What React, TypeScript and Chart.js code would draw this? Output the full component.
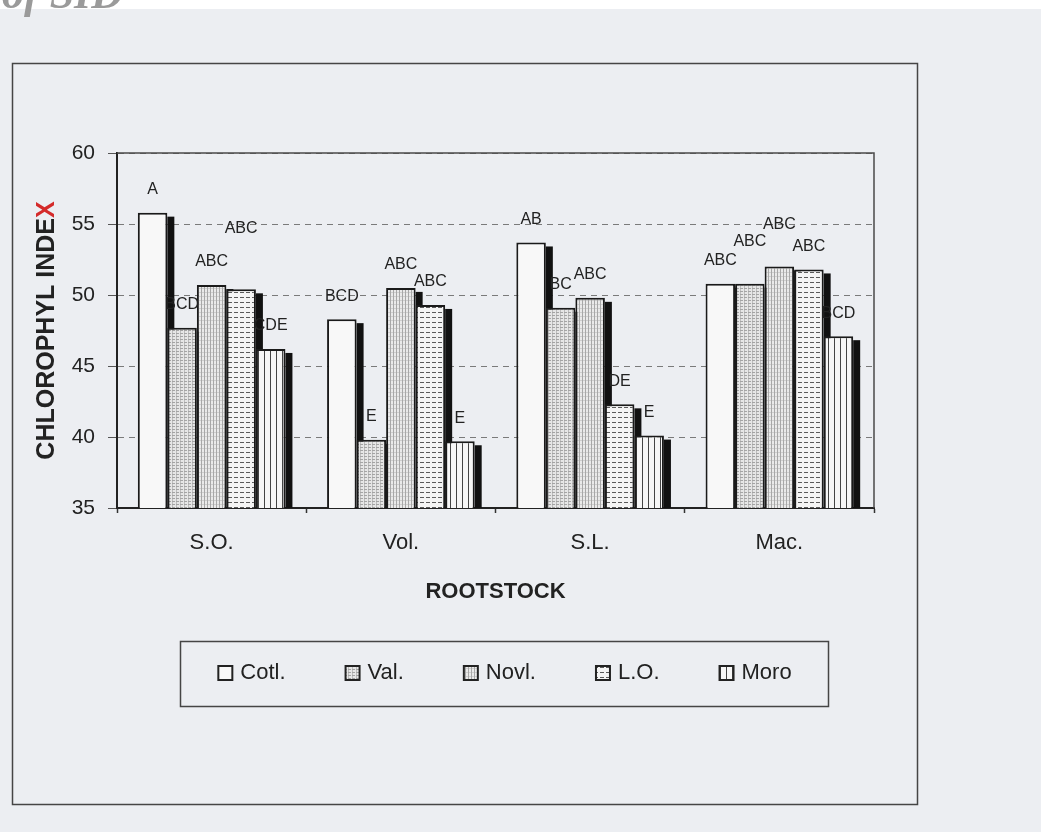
import React, { useEffect, useRef } from 'react';
import { Chart, registerables } from 'chart.js';

Chart.register(...registerables);

const categories = ['S.O.', 'Vol.', 'S.L.', 'Mac.'];
const seriesNames = ['Cotl.', 'Val.', 'Novl.', 'L.O.', 'Moro'];

const cotl = [55.8, 48.3, 53.7, 50.8];
const val = [47.7, 39.8, 49.1, 50.8];
const novl = [50.7, 50.5, 49.8, 52.0];
const lo = [50.4, 49.3, 42.3, 51.8];
const moro = [46.2, 39.7, 40.1, 47.1];

const cotlLetters = ['A', 'BCD', 'AB', 'ABC'];
const valLetters = ['BCD', 'E', 'BC', 'ABC'];
const novlLetters = ['ABC', 'ABC', 'ABC', 'ABC'];
const loLetters = ['ABC', 'ABC', 'DE', 'ABC'];
const moroLetters = ['CDE', 'E', 'E', 'BCD'];

const yMin = 35;
const yMax = 60;
const yStep = 5;

const yTitleMain = 'CHLOROPHYL INDE';
const yTitleLast = 'X';
const xTitle = 'ROOTSTOCK';
const watermark = 'Archive of SID';

const FONT = "'Liberation Sans', Arial, sans-serif";
const PAPER = '#eceef2';
const INK = '#222222';

function makePattern(w: number, h: number, draw: (g: CanvasRenderingContext2D) => void): CanvasPattern | string {
  const c = document.createElement('canvas');
  c.width = w;
  c.height = h;
  const g = c.getContext('2d');
  if (!g) return '#ffffff';
  draw(g);
  const p = g.createPattern(c, 'repeat');
  return p || '#ffffff';
}

function buildPatterns() {
  const white = '#f8f8f8';
  const valP = makePattern(4, 3, (g) => {
    g.fillStyle = '#e6e6e6';
    g.fillRect(0, 0, 4, 3);
    g.fillStyle = '#a4a4a4';
    g.fillRect(0, 0, 3, 1);
    g.fillStyle = '#bdbdbd';
    g.fillRect(0, 1, 1, 2);
  });
  const novlP = makePattern(3, 4, (g) => {
    g.fillStyle = '#eaeaea';
    g.fillRect(0, 0, 3, 4);
    g.fillStyle = '#a8a8a8';
    g.fillRect(0, 0, 1, 4);
    g.fillStyle = '#cfcfcf';
    g.fillRect(1, 0, 2, 1);
  });
  const loP = makePattern(6, 5, (g) => {
    g.fillStyle = '#f4f4f4';
    g.fillRect(0, 0, 6, 5);
    g.fillStyle = '#5a5a5a';
    g.fillRect(0, 2, 4, 1);
  });
  const moroP = makePattern(6, 2, (g) => {
    g.fillStyle = '#f6f6f6';
    g.fillRect(0, 0, 6, 2);
    g.fillStyle = '#444444';
    g.fillRect(0, 0, 1, 2);
  });
  return [white, valP, novlP, loP, moroP];
}

export default function App() {
  const ref = useRef<HTMLCanvasElement | null>(null);

  useEffect(() => {
    const canvas = ref.current;
    if (!canvas) return;
    const fills = buildPatterns();
    const seriesValues = [cotl, val, novl, lo, moro];
    const seriesLetters = [cotlLetters, valLetters, novlLetters, loLetters, moroLetters];

    const paperPlugin = {
      id: 'paper',
      beforeDraw(chart: any) {
        const ctx = chart.ctx as CanvasRenderingContext2D;
        ctx.save();
        ctx.fillStyle = PAPER;
        ctx.fillRect(0, 0, chart.width, chart.height);
        ctx.fillStyle = '#ffffff';
        ctx.fillRect(0, 0, chart.width, 9);
        ctx.font = `italic bold 44px 'Liberation Serif', 'DejaVu Serif', serif`;
        ctx.fillStyle = '#9a9a9a';
        ctx.textAlign = 'right';
        ctx.textBaseline = 'alphabetic';
        ctx.fillText(watermark, 123, 8);
        ctx.strokeStyle = '#454545';
        ctx.lineWidth = 1.5;
        ctx.strokeRect(12.5, 63.5, 905, 741);
        ctx.restore();
      },
    };

    const shadowPlugin = {
      id: 'shadows',
      beforeDatasetsDraw(chart: any) {
        const ctx = chart.ctx as CanvasRenderingContext2D;
        const area = chart.chartArea;
        ctx.save();
        ctx.strokeStyle = '#4a4a4a';
        ctx.lineWidth = 1.5;
        ctx.beginPath();
        ctx.moveTo(area.left, area.top);
        ctx.lineTo(area.right, area.top);
        ctx.lineTo(area.right, area.bottom);
        ctx.stroke();
        ctx.fillStyle = '#111111';
        chart.data.datasets.forEach((_: any, di: number) => {
          const meta = chart.getDatasetMeta(di);
          meta.data.forEach((el: any) => {
            const x0 = el.x + el.width / 2;
            const y0 = el.y + 4;
            const yb = Math.min(el.base, area.bottom);
            ctx.fillRect(x0, y0, 7, yb - y0);
          });
        });
        ctx.restore();
      },
    };

    const labelPlugin = {
      id: 'letters',
      afterDatasetsDraw(chart: any) {
        const ctx = chart.ctx as CanvasRenderingContext2D;
        ctx.save();
        ctx.font = `16px ${FONT}`;
        ctx.fillStyle = INK;
        ctx.textAlign = 'center';
        ctx.textBaseline = 'middle';
        const n = chart.data.labels.length;
        for (let ci = 0; ci < n; ci++) {
          const placed: { l: number; r: number; t: number; b: number }[] = [];
          chart.data.datasets.forEach((_: any, di: number) => {
            const el = chart.getDatasetMeta(di).data[ci];
            const text = seriesLetters[di][ci];
            const w = ctx.measureText(text).width;
            let cy = el.y - 23;
            const box = () => ({ l: el.x - w / 2, r: el.x + w / 2, t: cy - 8, b: cy + 8 });
            let guard = 0;
            while (
              guard < 10 &&
              placed.some((p) => {
                const b = box();
                return b.l < p.r && b.r > p.l && b.t < p.b && b.b > p.t;
              })
            ) {
              cy -= 19;
              guard++;
            }
            placed.push(box());
            ctx.fillText(text, el.x, cy);
          });
        }
        ctx.restore();
      },
    };

    const overlayPlugin = {
      id: 'overlay',
      afterDraw(chart: any) {
        const ctx = chart.ctx as CanvasRenderingContext2D;
        const area = chart.chartArea;
        ctx.save();
        ctx.translate(47, (area.top + area.bottom) / 2);
        ctx.rotate(-Math.PI / 2);
        ctx.font = `bold 25px ${FONT}`;
        ctx.textBaseline = 'middle';
        ctx.textAlign = 'left';
        const w1 = ctx.measureText(yTitleMain).width;
        const w2 = ctx.measureText(yTitleLast).width;
        const start = -(w1 + w2) / 2;
        ctx.fillStyle = INK;
        ctx.fillText(yTitleMain, start, 0);
        ctx.fillStyle = '#d42a2a';
        ctx.fillText(yTitleLast, start + w1, 0);
        ctx.restore();

        ctx.save();
        ctx.strokeStyle = '#454545';
        ctx.lineWidth = 1.5;
        ctx.strokeRect(180.5, 641.5, 648, 65);
        ctx.font = `22px ${FONT}`;
        ctx.textBaseline = 'middle';
        ctx.textAlign = 'left';
        const marker = 14;
        const mgap = 8;
        const gap = 60;
        const widths = seriesNames.map((s) => marker + mgap + ctx.measureText(s).width);
        const total = widths.reduce((a, b) => a + b, 0) + gap * (seriesNames.length - 1);
        let x = 505 - total / 2;
        const cy = 673;
        seriesNames.forEach((s, i) => {
          ctx.fillStyle = fills[i] as any;
          ctx.fillRect(x, cy - marker / 2, marker, marker);
          ctx.strokeStyle = '#222';
          ctx.lineWidth = 2;
          ctx.strokeRect(x, cy - marker / 2, marker, marker);
          ctx.fillStyle = INK;
          ctx.fillText(s, x + marker + mgap, cy);
          x += widths[i] + gap;
        });
        ctx.restore();
      },
    };

    const chart = new Chart(canvas, {
      type: 'bar',
      data: {
        labels: categories,
        datasets: seriesNames.map((name, i) => ({
          label: name,
          data: seriesValues[i],
          backgroundColor: fills[i] as any,
          borderColor: '#1a1a1a',
          borderWidth: 2,
          barPercentage: 1,
          categoryPercentage: 0.78,
        })),
      },
      options: {
        responsive: false,
        animation: false,
        devicePixelRatio: 1,
        layout: { padding: { left: 20, top: 153, right: 167, bottom: 224 } },
        plugins: {
          legend: { display: false },
          tooltip: { enabled: false },
          title: { display: false },
        },
        scales: {
          x: {
            grid: {
              drawOnChartArea: false,
              drawTicks: true,
              tickLength: 5,
              offset: true,
              tickColor: '#333',
              tickWidth: 1.5,
            },
            border: { display: true, color: '#222', width: 2 },
            ticks: {
              color: INK,
              font: { family: FONT, size: 22 },
              padding: 17,
            },
            title: {
              display: true,
              text: xTitle,
              color: INK,
              font: { family: FONT, size: 22, weight: 'bold' },
              padding: { top: 0, bottom: 3 },
            },
            afterFit: (s: any) => {
              s.height = 100;
            },
          },
          y: {
            min: yMin,
            max: yMax,
            ticks: {
              stepSize: yStep,
              color: INK,
              font: { family: FONT, size: 21 },
              padding: 13,
            },
            grid: {
              color: '#7a7a7a',
              lineWidth: 1,
              tickLength: 9,
              tickColor: '#555',
              drawTicks: true,
            },
            border: { display: true, color: '#222', width: 2, dash: [6, 5] },
            afterFit: (s: any) => {
              s.width = 97;
            },
          },
        },
      },
      plugins: [paperPlugin, shadowPlugin, labelPlugin, overlayPlugin],
    } as any);

    return () => {
      chart.destroy();
    };
  }, []);

  return (
    <div style={{ position: 'absolute', left: 0, top: 0, width: 1041, height: 832, overflow: 'hidden' }}>
      <canvas ref={ref} width={1041} height={832} style={{ display: 'block', width: 1041, height: 832 }} />
    </div>
  );
}
